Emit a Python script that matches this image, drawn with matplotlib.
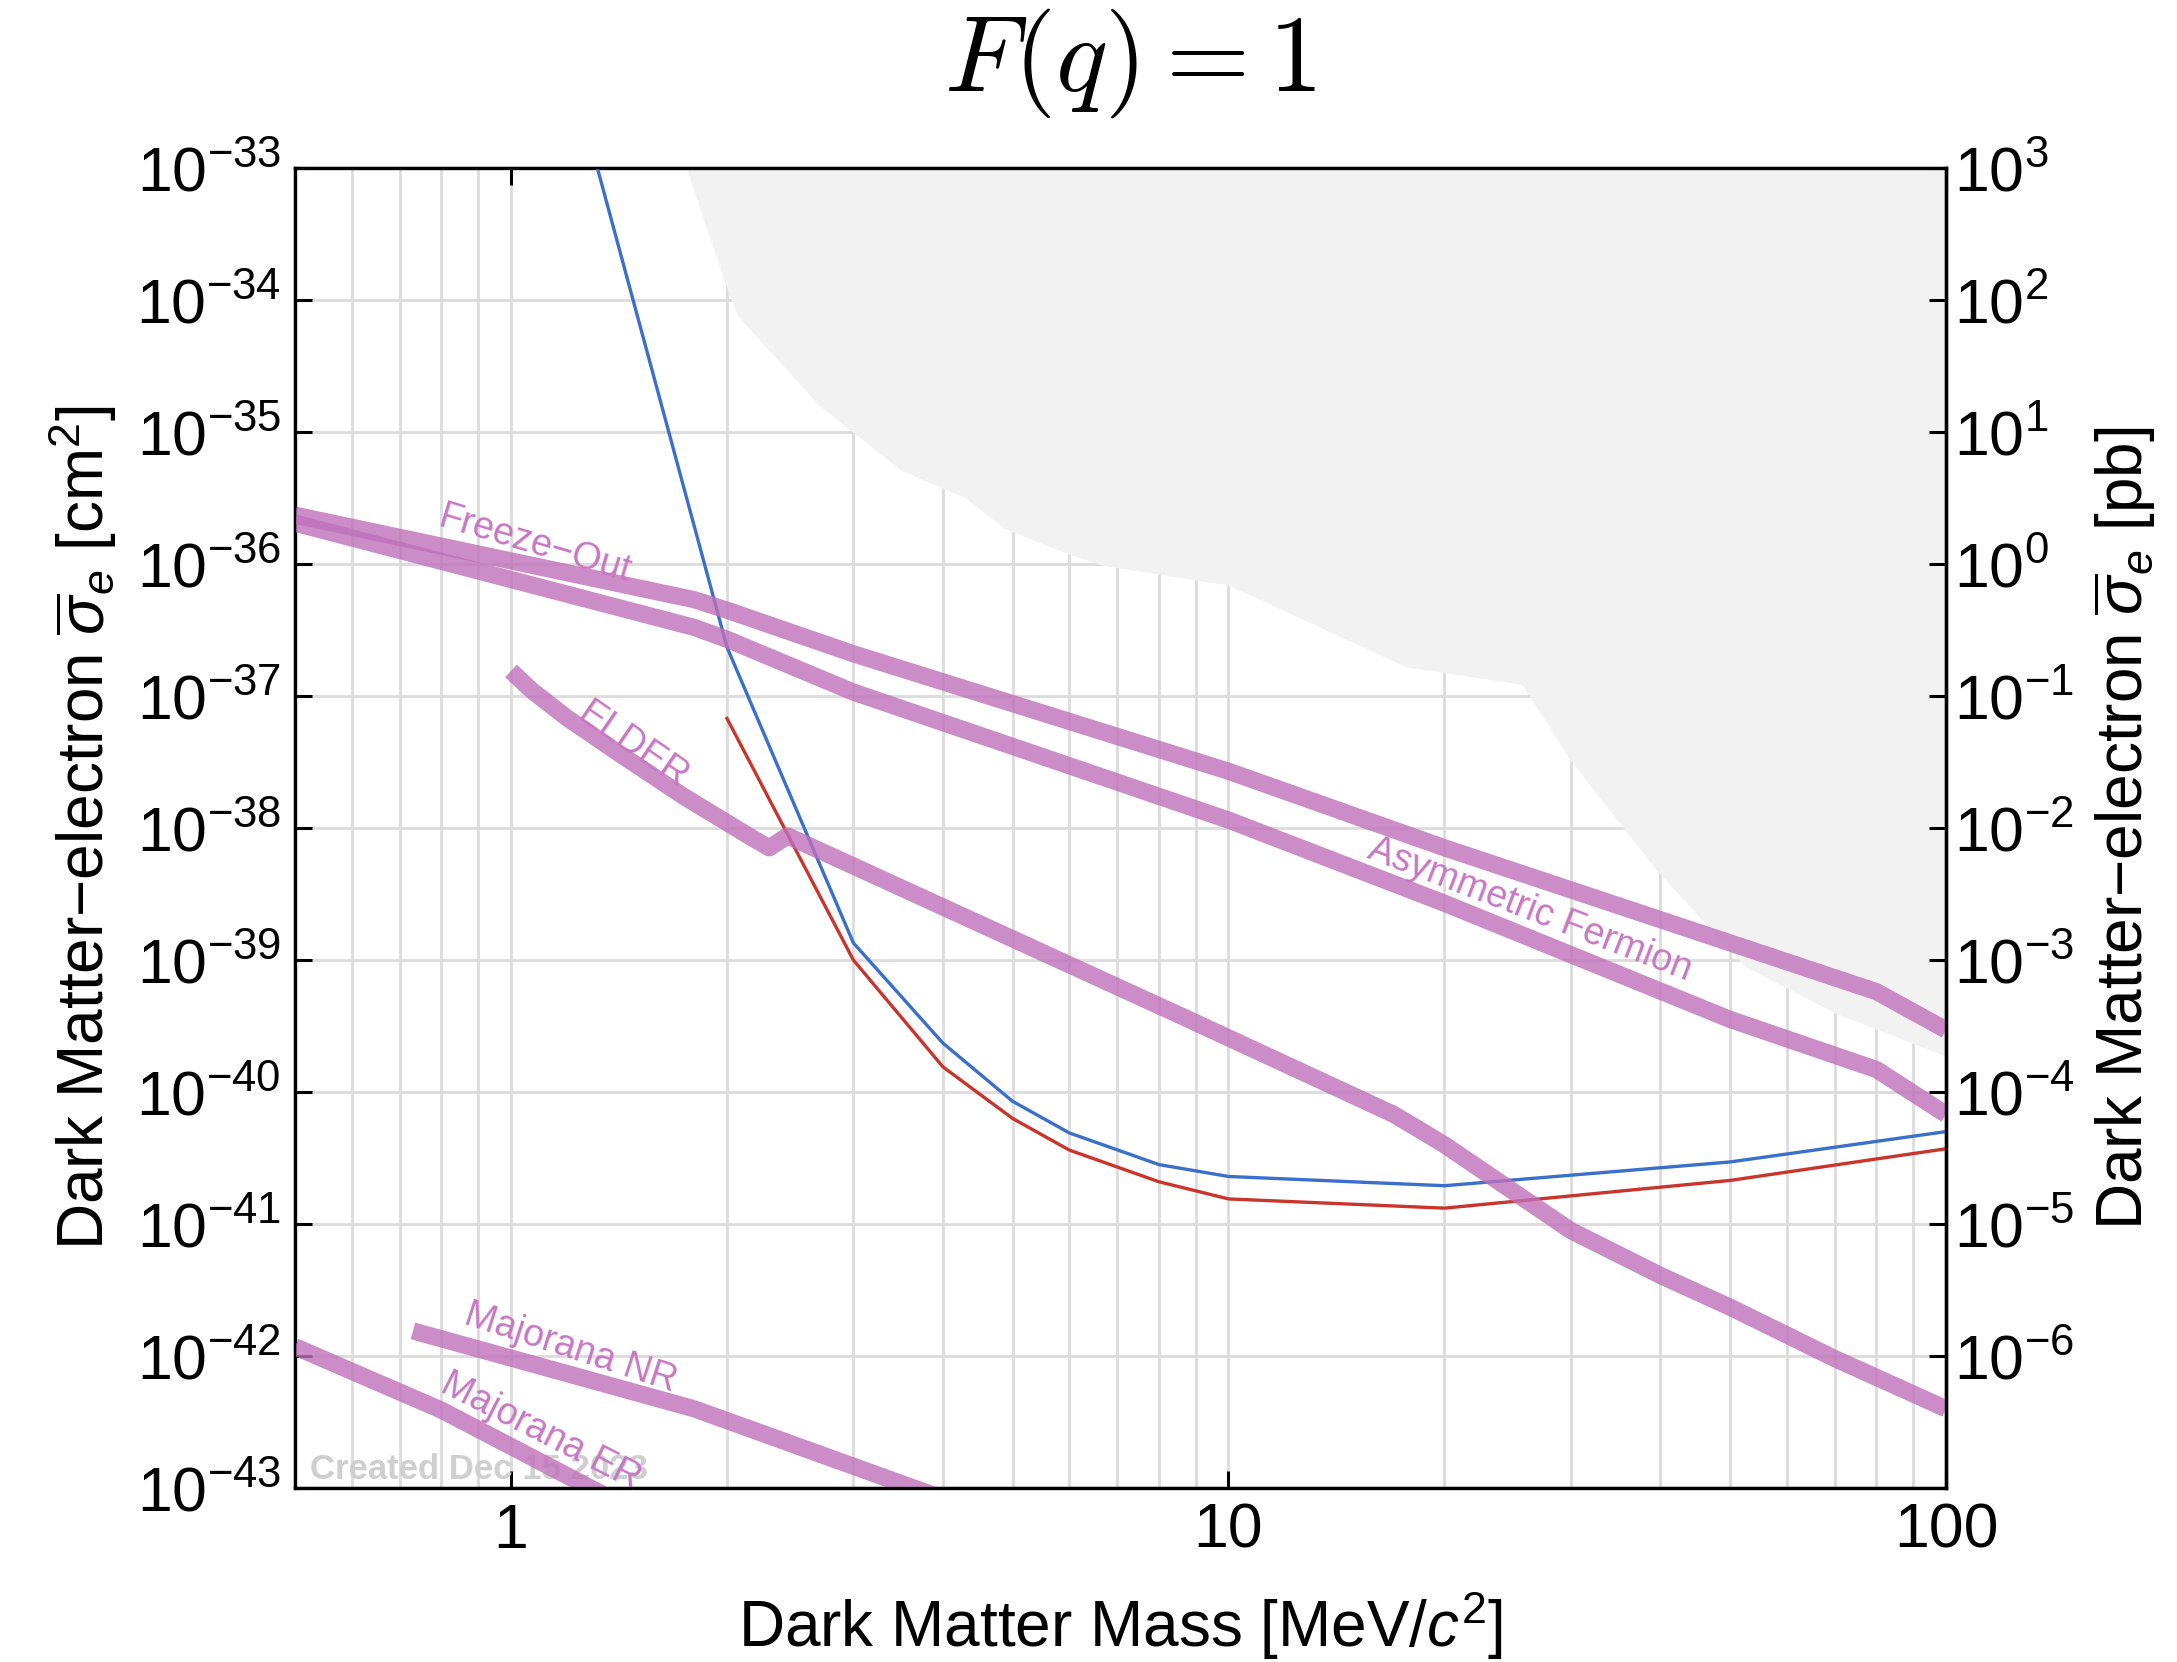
import numpy as np
import matplotlib
matplotlib.use("Agg")
import matplotlib.pyplot as plt
from matplotlib.ticker import FixedLocator, NullLocator, NullFormatter, FuncFormatter, LogLocator

plt.rcParams['font.family'] = ['Liberation Sans', 'DejaVu Sans']
plt.rcParams['mathtext.fontset'] = 'custom'
plt.rcParams['mathtext.rm'] = 'Liberation Sans'
plt.rcParams['mathtext.it'] = 'Liberation Sans:italic'
plt.rcParams['mathtext.bf'] = 'Liberation Sans:bold'

# --- data (mass in MeV, log10 of cross section in cm^2) ---
blue_mass = [1.3, 2, 3, 4, 5, 6, 8, 10, 20, 50, 100]
blue_logsig = [-32.87, -36.63, -38.87, -39.63, -40.07, -40.31, -40.55, -40.64, -40.71, -40.53, -40.30]

red_mass = [2, 3, 4, 5, 6, 8, 10, 20, 50, 100]
red_logsig = [-37.17, -39.0, -39.81, -40.2, -40.44, -40.68, -40.81, -40.88, -40.67, -40.43]

freeze_mass = [0.5, 1.8, 2, 3, 10, 20, 50, 80, 100]
freeze_logsig = [-35.63, -36.27, -36.35, -36.68, -37.57, -38.15, -38.87, -39.24, -39.53]

asym_mass = [0.5, 1.8, 2, 3, 10, 20, 50, 80, 100]
asym_logsig = [-35.69, -36.48, -36.57, -36.97, -37.94, -38.57, -39.45, -39.83, -40.17]

elder_mass = [1.0, 1.07, 1.2, 1.41, 1.74, 2.16, 2.29, 2.43, 8.56, 17, 20, 30, 40, 50, 70, 100]
elder_logsig = [-36.81, -36.96, -37.17, -37.43, -37.76, -38.07, -38.15, -38.06, -39.42, -40.17,
                -40.40, -41.05, -41.39, -41.63, -42.02, -42.40]

maj_nr_mass = [0.73, 1.8, 4.0]
maj_nr_logsig = [-41.81, -42.40, -43.08]

maj_er_mass = [0.5, 0.8, 1.4]
maj_er_logsig = [-41.93, -42.41, -43.10]

# excluded region boundary (grey)
excl_mass = [1.756, 1.99, 2.07, 2.69, 3.5, 4.3, 4.87, 5.96, 6.68, 10, 17.7, 25.6,
             27.6, 29.7, 31.4, 39.5, 45.6, 52.5, 70, 100]
excl_logsig = [-33.0, -33.88, -34.12, -34.80, -35.29, -35.50, -35.73, -35.92, -36.01,
               -36.16, -36.78, -36.91, -37.18, -37.46, -37.63, -38.32, -38.69, -39.05,
               -39.40, -39.73]

labels = ["Freeze\u2212Out", "ELDER", "Asymmetric Fermion", "Majorana NR", "Majorana ER"]
label_mass = [1.08, 1.48, 26.3, 1.21, 1.10]
label_logsig = [-35.85, -37.38, -38.62, -41.94, -42.57]
label_angle = [-16.5, -34.5, -21.0, -18.0, -27.0]

PURPLE = (0.75, 0.44, 0.73)

fig = plt.figure(figsize=(10.885, 8.31), dpi=200)
ax = fig.add_axes([0.1355, 0.1047, 0.7584, 0.7942])
ax.set_xscale('log')
ax.set_yscale('log')
ax.set_xlim(0.5, 100)
ax.set_ylim(1e-43, 1e-33)
ax.set_axisbelow(True)

ax.xaxis.set_major_locator(FixedLocator([1, 10, 100]))
ax.xaxis.set_minor_locator(LogLocator(base=10, subs=np.arange(2, 10)))
ax.xaxis.set_major_formatter(FuncFormatter(lambda v, p: f"{v:g}"))
ax.xaxis.set_minor_formatter(NullFormatter())
ax.yaxis.set_major_locator(FixedLocator([10.0 ** k for k in range(-43, -32)]))
ax.yaxis.set_minor_locator(NullLocator())

ax.grid(True, which='major', axis='both', color='#dcdcdc', lw=1.0)
ax.grid(True, which='minor', axis='x', color='#dcdcdc', lw=1.0)

ax.tick_params(which='major', direction='in', length=6, width=1.1, labelsize=22.5,
               top=True, right=False, pad=5)
ax.tick_params(which='minor', length=0)
for s in ax.spines.values():
    s.set_linewidth(1.2)

# excluded region
ax.fill_between(excl_mass, 10.0 ** np.array(excl_logsig), 1e-33, color='#f2f2f2',
                lw=0, zorder=1)

# experimental curves
ax.plot(blue_mass, 10.0 ** np.array(blue_logsig), color='#3b6fcb', lw=1.2, zorder=3)
ax.plot(red_mass, 10.0 ** np.array(red_logsig), color='#c9352c', lw=1.2, zorder=3)

# theory targets
for m, s in [(freeze_mass, freeze_logsig), (asym_mass, asym_logsig),
             (elder_mass, elder_logsig), (maj_nr_mass, maj_nr_logsig),
             (maj_er_mass, maj_er_logsig)]:
    ax.plot(m, 10.0 ** np.array(s), color=PURPLE, alpha=0.8, lw=6.2,
            solid_capstyle='butt', solid_joinstyle='round', zorder=4)

for t, m, s, a in zip(labels, label_mass, label_logsig, label_angle):
    ax.text(m, 10.0 ** s, t, rotation=a, ha='center', va='center', fontsize=13.5,
            color=(0.78, 0.47, 0.76), zorder=5, rotation_mode='anchor')

ax.text(0.009, 0.014, "Created Dec 15 2023", transform=ax.transAxes, fontsize=12.5,
        color='#cfcfcf', ha='left', va='center', zorder=2, fontweight='bold')

ax.set_xlabel("Dark Matter Mass [MeV/$c^2$]", fontsize=23, labelpad=10)
ax.set_ylabel("Dark Matter\u2212electron $\\overline{\\sigma}_e$ [cm$^2$]", fontsize=23,
              labelpad=6)

# right axis in picobarn
ax2 = ax.twinx()
ax2.set_yscale('log')
ax2.set_ylim(1e-7, 1e3)
ax2.yaxis.set_major_locator(FixedLocator([10.0 ** k for k in range(-6, 4)]))
ax2.yaxis.set_minor_locator(NullLocator())
ax2.tick_params(which='major', direction='in', length=6, width=1.1, labelsize=22.5, pad=3)
ax2.spines['right'].set_linewidth(1.2)
ax2.set_ylabel("Dark Matter\u2212electron $\\overline{\\sigma}_e$ [pb]", fontsize=23,
               labelpad=6)

fig.text(0.519, 0.962, r'$F(q) = 1$', math_fontfamily='cm', fontsize=39,
         ha='center', va='center')

fig.savefig("out.png", dpi=200)
